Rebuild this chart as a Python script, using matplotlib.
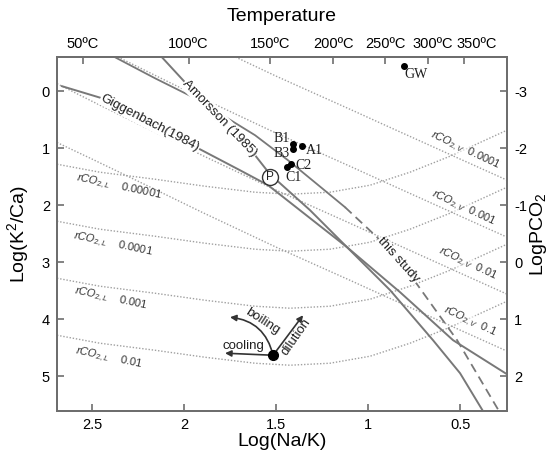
import matplotlib
matplotlib.use("Agg")
import matplotlib.pyplot as plt
from matplotlib.transforms import ScaledTranslation

plt.rcParams['font.family'] = ['Liberation Sans', 'DejaVu Sans']
plt.rcParams['axes.unicode_minus'] = False
plt.rcParams['mathtext.fontset'] = 'custom'
plt.rcParams['mathtext.rm'] = 'Liberation Sans'
plt.rcParams['mathtext.it'] = 'Liberation Sans:italic'

# ---------------- data ----------------
xlim = (2.69, 0.245)
ylim = (5.61, -0.60)

temp_labels = ['50ºC', '100ºC', '150ºC', '200ºC', '250ºC', '300ºC', '350ºC']
temp_pos = [2.551, 1.975, 1.535, 1.188, 0.907, 0.675, 0.481]

gig_x = [2.663, 2.446, 2.185, 1.924, 1.696, 1.543, 1.370, 1.114, 0.826, 0.538, 0.245]
gig_y = [-0.088, 0.123, 0.544, 1.000, 1.386, 1.649, 2.088, 2.737, 3.526, 4.368, 4.965]

arn_x = [2.120, 1.995, 1.804, 1.614, 1.533, 1.315, 1.114, 0.880, 0.647, 0.500, 0.375]
arn_y = [-0.596, -0.158, 0.474, 1.123, 1.456, 2.088, 2.737, 3.491, 4.368, 4.947, 5.614]

study_x = [2.375, 2.158, 1.940, 1.614, 1.435, 1.250, 1.125, 0.951, 0.734, 0.516, 0.288]
study_y = [-0.596, -0.228, 0.123, 0.772, 1.211, 1.702, 2.035, 2.561, 3.386, 4.368, 5.614]
study_solid_n = 7  # first points drawn solid, rest dashed

# rCO2,L isopleths (liquid)
L_labels = ['0.00001', '0.0001', '0.001', '0.01']
L_x = [2.69, 2.457, 2.158, 1.886, 1.614, 1.424, 1.207, 0.989, 0.772, 0.554, 0.245]
L1_y = [1.281, 1.421, 1.544, 1.667, 1.772, 1.807, 1.772, 1.649, 1.421, 1.140, 0.684]
L2_y = [2.281, 2.421, 2.544, 2.667, 2.772, 2.807, 2.772, 2.649, 2.421, 2.140, 1.684]
L3_y = [3.281, 3.421, 3.544, 3.667, 3.772, 3.807, 3.772, 3.649, 3.421, 3.140, 2.684]
L4_y = [4.281, 4.421, 4.544, 4.667, 4.772, 4.807, 4.772, 4.649, 4.421, 4.140, 3.684]
L_lab_x = [2.353, 2.386, 2.397, 2.408]
L_lab_y = [1.684, 2.684, 3.649, 4.684]

# rCO2,V isopleths (vapour)
V_labels = ['0.0001', '0.001', '0.01', '0.1']
V1_x = [1.72, 1.7, 1.5, 1.3, 1.1, 0.9, 0.7, 0.5, 0.245]
V1_y = [-0.60, -0.569, -0.265, 0.025, 0.314, 0.607, 0.898, 1.19, 1.56]
V2_x = [2.36, 2.3, 2.1, 1.9, 1.7, 1.5, 1.3, 1.1, 0.9, 0.7, 0.5, 0.245]
V2_y = [-0.60, -0.506, -0.187, 0.127, 0.431, 0.735, 1.025, 1.314, 1.607, 1.898, 2.19, 2.56]
V3_x = [2.69, 2.5, 2.3, 2.1, 1.9, 1.7, 1.5, 1.3, 1.1, 0.9, 0.7, 0.5, 0.245]
V3_y = [-0.132, 0.176, 0.494, 0.813, 1.127, 1.431, 1.735, 2.025, 2.314, 2.607, 2.898, 3.19, 3.56]
V4_x = [2.69, 2.5, 2.3, 2.1, 1.9, 1.7, 1.5, 1.3, 1.1, 0.9, 0.7, 0.5, 0.245]
V4_y = [0.90, 1.19, 1.50, 1.813, 2.127, 2.431, 2.735, 3.025, 3.314, 3.607, 3.898, 4.19, 4.56]
V_lab_x = [0.473, 0.484, 0.457, 0.446]
V_lab_y = [1.035, 2.05, 3.035, 4.035]

# samples
samp_names = ['B1', 'B3', 'A1', 'C2', 'C1', 'GW']
samp_x = [1.408, 1.408, 1.359, 1.418, 1.440, 0.804]
samp_y = [0.930, 1.018, 0.965, 1.281, 1.333, -0.439]
p_x, p_y = 1.533, 1.509

# process arrows
proc_origin = (1.516, 4.632)
cool_end = (1.777, 4.596)
boil_end = (1.75, 3.965)
dil_end = (1.353, 3.93)

# ---------------- figure ----------------
fig = plt.figure(figsize=(5.52, 4.55), dpi=100)
ax = fig.add_axes([57/552, 1-411/455, 450/552, 354/455])
ax.set_xlim(*xlim)
ax.set_ylim(*ylim)

spine_c = '#6e6e6e'
line_c = '#787878'
dot_c = '#a0a0a0'
txt_c = '#1e1e1e'

for s in ax.spines.values():
    s.set_color(spine_c)
    s.set_linewidth(1.4)

dot_ls = (0, (1, 1.3))
for ys in (L1_y, L2_y, L3_y, L4_y):
    ax.plot(L_x, ys, color=dot_c, lw=1.0, ls=dot_ls)
for xs, ys in ((V1_x, V1_y), (V2_x, V2_y), (V3_x, V3_y), (V4_x, V4_y)):
    ax.plot(xs, ys, color=dot_c, lw=1.0, ls=dot_ls)

# main curves
ax.plot(gig_x, gig_y, color=line_c, lw=1.4)
ax.plot(arn_x, arn_y, color=line_c, lw=1.4)
ax.plot(study_x[:study_solid_n], study_y[:study_solid_n], color=line_c, lw=1.3)
ax.plot(study_x[study_solid_n-1:], study_y[study_solid_n-1:], color=line_c, lw=1.3,
        ls=(0, (5, 3)))

bb = dict(fc='white', ec='none', pad=0.5)
ax.text(2.185, 0.561, 'Giggenbach(1984)', rotation=-27.5, ha='center', va='center',
        fontsize=9.5, color=txt_c, bbox=bb, rotation_mode='anchor')
ax.text(1.804, 0.482, 'Amorsson (1985)', rotation=-46, ha='center', va='center',
        fontsize=9.5, color=txt_c, bbox=bb, rotation_mode='anchor')
ax.text(0.837, 2.965, 'this study', rotation=-48, ha='center', va='center',
        fontsize=9.5, color=txt_c, bbox=bb, rotation_mode='anchor')

for lab, lx, ly in zip(L_labels, L_lab_x, L_lab_y):
    ax.text(lx, ly, r'$\mathit{rCO_{2,L}}$    $\mathit{' + lab + '}$', rotation=-12,
            ha='center', va='center', fontsize=8, color='#333333', rotation_mode='anchor')
for lab, lx, ly in zip(V_labels, V_lab_x, V_lab_y):
    ax.text(lx, ly, r'$\mathit{rCO_{2,V}}$  $\mathit{' + lab + '}$', rotation=-25,
            ha='center', va='center', fontsize=8, color='#333333', rotation_mode='anchor',
            bbox=dict(fc='white', ec='none', pad=0.1, alpha=0.6))

# samples
ax.plot(samp_x, samp_y, 'o', color='black', ms=4, zorder=5)
serif = ['Liberation Serif', 'DejaVu Serif']
offs = {'B1': (-8, 4.3), 'B3': (-8, -3), 'A1': (8.6, -2.9), 'C2': (8.6, -0.7),
        'C1': (4.3, -7.2), 'GW': (8.6, -5.8)}
for n, sx, sy in zip(samp_names, samp_x, samp_y):
    dx, dy = offs[n]
    ax.annotate(n, (sx, sy), xytext=(dx, dy), textcoords='offset points',
                ha='center', va='center', fontsize=10, family=serif, color=txt_c)
ax.plot([p_x], [p_y], 'o', mfc='white', mec='#333333', ms=11.5, mew=1.0, zorder=5)
ax.text(p_x, p_y, 'P', ha='center', va='center', fontsize=8.5, color=txt_c, zorder=6)

# process arrows
ax.plot([proc_origin[0]], [proc_origin[1]], 'o', color='black', ms=7, zorder=5)
ap = dict(arrowstyle='-|>', color='#333333', lw=1.2, mutation_scale=9, shrinkA=0, shrinkB=0)
ax.annotate('', xy=cool_end, xytext=proc_origin, arrowprops=ap)
ax.annotate('', xy=dil_end, xytext=proc_origin, arrowprops=ap)
ap2 = dict(ap, connectionstyle='arc3,rad=0.35')
ax.annotate('', xy=boil_end, xytext=proc_origin, arrowprops=ap2)
ax.text(1.679, 4.474, 'cooling', ha='center', va='center', fontsize=9.5, color=txt_c)
ax.text(1.571, 4.035, 'boiling', rotation=-33, ha='center', va='center', fontsize=9.5, color=txt_c)
ax.text(1.391, 4.316, 'dilution', rotation=55, ha='center', va='center', fontsize=9.5, color=txt_c)

# axes ticks
tick_kw = dict(direction='in', length=5, width=1.2, color=spine_c, labelsize=10.5)
ax.set_xticks([2.5, 2, 1.5, 1, 0.5])
ax.set_xticklabels(['2.5', '2', '1.5', '1', '0.5'])
ax.set_yticks([0, 1, 2, 3, 4, 5])
ax.tick_params(pad=5, **tick_kw)
ax.set_xlabel('Log(Na/K)', fontsize=14, labelpad=1)
ax.set_ylabel('Log(K$^2$/Ca)', fontsize=14, labelpad=8)

axr = ax.twinx()
axr.set_ylim(ylim[0] - 3, ylim[1] - 3)
axr.set_yticks([-3, -2, -1, 0, 1, 2])
axr.tick_params(pad=5, **tick_kw)
axr.set_ylabel('LogPCO$_2$', fontsize=14, labelpad=1)

axt = ax.twiny()
axt.set_xlim(*xlim)
axt.set_xticks(temp_pos)
axt.set_xticklabels(temp_labels)
axt.tick_params(pad=4, **tick_kw)
axt.set_xlabel('Temperature', fontsize=14, labelpad=12)
lbls = axt.get_xticklabels()
for lbl, dx in zip(lbls[-2:], [5, 13]):
    lbl.set_transform(lbl.get_transform() + ScaledTranslation(dx/100, 0, fig.dpi_scale_trans))
for a in (axr, axt):
    for s in a.spines.values():
        s.set_color(spine_c)
        s.set_linewidth(1.4)

fig.savefig('out.png', dpi=100)
